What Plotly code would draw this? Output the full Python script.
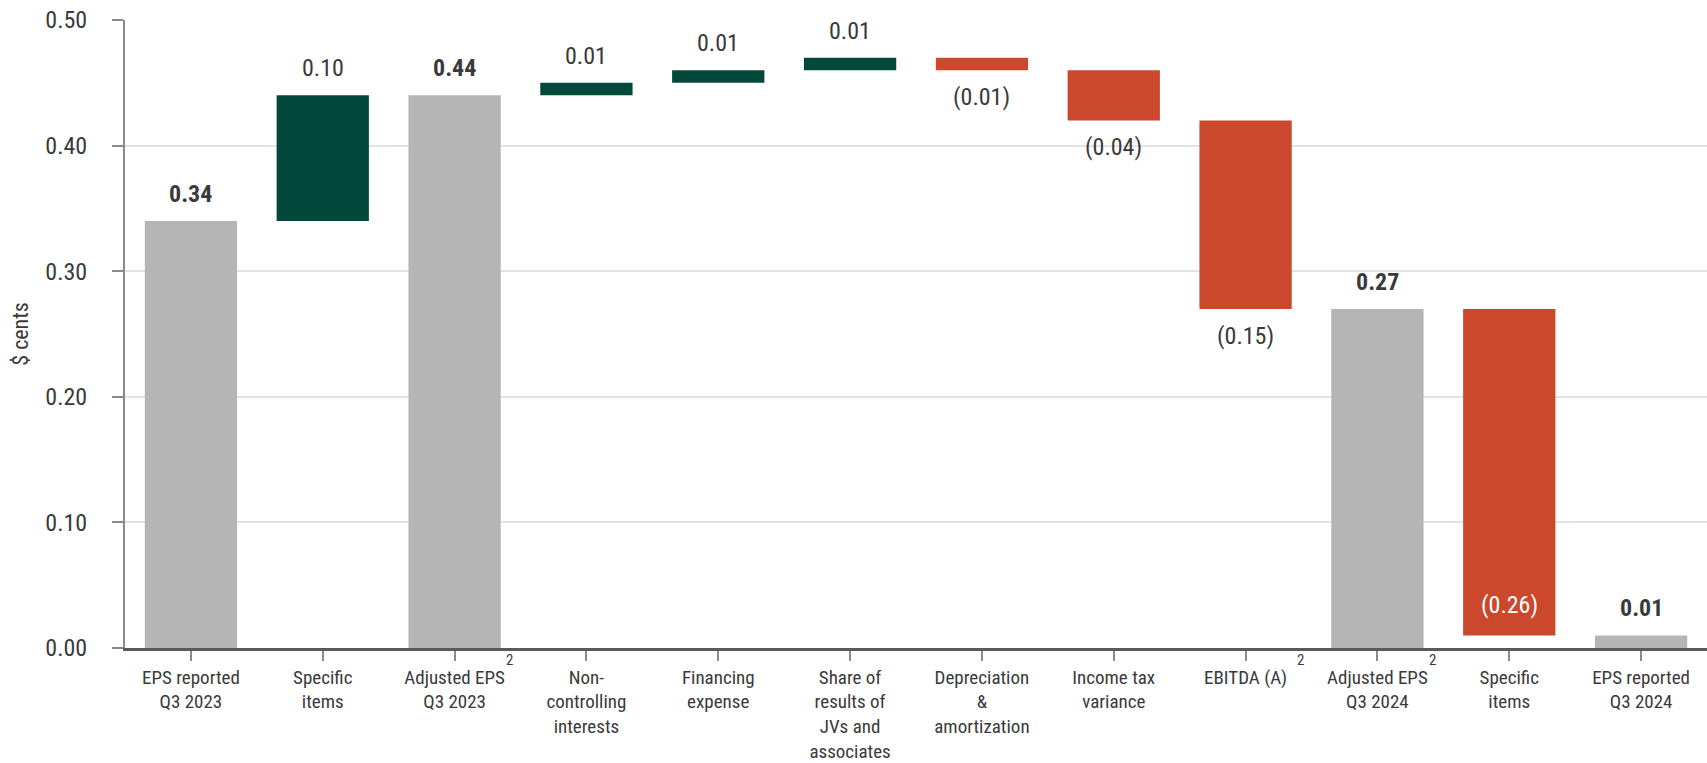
import plotly.graph_objects as go

# Bridge from reported EPS Q3 2023 to reported EPS Q3 2024
categories = [
    "EPS reported<br>Q3 2023",
    "Specific<br>items",
    "Adjusted EPS<br>Q3 2023",
    "Non-<br>controlling<br>interests",
    "Financing<br>expense",
    "Share of<br>results of<br>JVs and<br>associates",
    "Depreciation<br>&<br>amortization",
    "Income tax<br>variance",
    "EBITDA (A)",
    "Adjusted EPS<br>Q3 2024",
    "Specific<br>items",
    "EPS reported<br>Q3 2024",
]
measures = ["absolute", "relative", "total", "relative", "relative", "relative",
            "relative", "relative", "relative", "total", "relative", "total"]
values = [0.34, 0.10, 0.0, 0.01, 0.01, 0.01, -0.01, -0.04, -0.15, 0.0, -0.26, 0.0]
value_labels = ["0.34", "0.10", "0.44", "0.01", "0.01", "0.01", "(0.01)", "(0.04)",
                "(0.15)", "0.27", "(0.26)", "0.01"]
footnote_items = [2, 8, 9]   # categories carrying footnote "2"

GREY = "#b5b5b5"
GREEN = "#02493c"
RED = "#cc482d"
TEXT = "#3a3a3a"
FONT = "Liberation Sans Narrow, Arial Narrow, Roboto Condensed, Arial, sans-serif"

x = list(range(len(categories)))

fig = go.Figure(go.Waterfall(
    x=x,
    measure=measures,
    y=values,
    width=0.7,
    increasing=dict(marker=dict(color=GREEN, line=dict(width=0))),
    decreasing=dict(marker=dict(color=RED, line=dict(width=0))),
    totals=dict(marker=dict(color=GREY, line=dict(width=0))),
    connector=dict(visible=False),
    textposition="none",
    hoverinfo="skip",
))

# running levels to place value labels at the bar ends
annotations = []
level = 0.0
for i, (m, v, lab) in enumerate(zip(measures, values, value_labels)):
    if m == "absolute":
        lo, hi = 0.0, v
        level = v
    elif m == "total":
        lo, hi = 0.0, level
    else:
        start = level
        level = level + v
        lo, hi = min(start, level), max(start, level)
    if m in ("absolute", "total"):
        annotations.append(dict(x=i, y=hi, text="<b>%s</b>" % lab, showarrow=False,
                                yanchor="bottom", yshift=11,
                                font=dict(size=24, color=TEXT, family=FONT)))
    elif v > 0:
        annotations.append(dict(x=i, y=hi, text=lab, showarrow=False,
                                yanchor="bottom", yshift=11,
                                font=dict(size=24, color=TEXT, family=FONT)))
    elif i == 10:
        annotations.append(dict(x=i, y=lo, text=lab, showarrow=False,
                                yanchor="bottom", yshift=14,
                                font=dict(size=24, color="white", family=FONT)))
    else:
        annotations.append(dict(x=i, y=lo, text=lab, showarrow=False,
                                yanchor="top", yshift=-11,
                                font=dict(size=24, color=TEXT, family=FONT)))

for i in footnote_items:
    annotations.append(dict(x=i + 0.42, xref="x", y=0, yref="paper", text="2",
                            showarrow=False, yanchor="top", yshift=-1,
                            font=dict(size=15, color=TEXT, family=FONT)))

fig.update_layout(
    width=1707, height=763,
    margin=dict(l=125, r=0, t=20, b=115),
    plot_bgcolor="white", paper_bgcolor="white",
    showlegend=False,
    font=dict(family=FONT, color=TEXT),
    annotations=annotations,
    xaxis=dict(
        range=[-0.5, 11.5],
        tickmode="array", tickvals=x, ticktext=categories,
        tickfont=dict(size=19, color=TEXT, family=FONT),
        ticks="outside", ticklen=10, tickwidth=2, tickcolor="#8a8a8a",
        showline=True, linecolor="#5a5a5a", linewidth=2.5,
        showgrid=False, zeroline=False, fixedrange=True,
    ),
    yaxis=dict(
        range=[0, 0.5],
        tickmode="array", tickvals=[0, 0.1, 0.2, 0.3, 0.4, 0.5],
        ticktext=["0.00", "0.10", "0.20", "0.30", "0.40", "0.50"],
        tickfont=dict(size=24, color=TEXT, family=FONT),
        ticks="outside", ticklen=11, tickwidth=2, tickcolor="#8a8a8a",
        ticklabelstandoff=20,
        showline=True, linecolor="#8a8a8a", linewidth=2,
        showgrid=True, gridcolor="#e3e3e3", gridwidth=1.5,
        zeroline=False, fixedrange=True,
        title=dict(text="$ cents", font=dict(size=22, color=TEXT, family=FONT),
                   standoff=11),
    ),
)

fig.write_html("out.html")
